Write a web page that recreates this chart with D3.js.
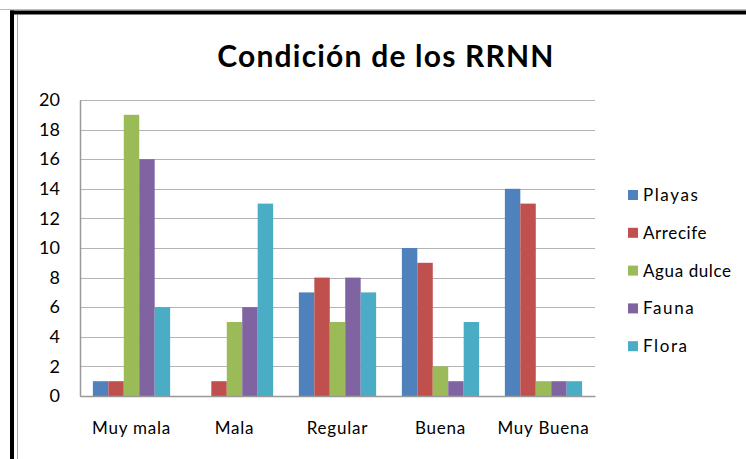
<!DOCTYPE html>
<html>
<head>
<meta charset="utf-8">
<script src="https://cdn.jsdelivr.net/npm/d3@7"></script>
<style>
  body { margin: 0; background: #fff; }
  text { font-family: Lato, "Open Sans", sans-serif; fill: #000; }
</style>
</head>
<body>
<svg id="chart" width="746" height="459"></svg>
<script>
const categories = ['Muy mala', 'Mala', 'Regular', 'Buena', 'Muy Buena']
const seriesNames = ['Playas', 'Arrecife', 'Agua dulce', 'Fauna', 'Flora']
const playas = [1, 0, 7, 10, 14]
const arrecife = [1, 1, 8, 9, 13]
const aguaDulce = [19, 5, 5, 2, 1]
const fauna = [16, 6, 8, 1, 1]
const flora = [6, 13, 7, 5, 1]
const yTicks = [0, 2, 4, 6, 8, 10, 12, 14, 16, 18, 20]
const colors = ['#4f81bd', '#c0504d', '#9bbb59', '#8064a2', '#4bacc6']

const seriesValues = [playas, arrecife, aguaDulce, fauna, flora]

const svg = d3.select('#chart')
const margin = { top: 100, left: 80 }
const width = 515
const height = 296

// frame
svg.append('line').attr('x1', 0).attr('x2', 746).attr('y1', 9.5).attr('y2', 9.5)
  .attr('stroke', '#bbb').attr('stroke-width', 1)
svg.append('line').attr('x1', 10).attr('x2', 746).attr('y1', 12.5).attr('y2', 12.5)
  .attr('stroke', '#000').attr('stroke-width', 4)
svg.append('line').attr('x1', 12).attr('x2', 12).attr('y1', 10.5).attr('y2', 459)
  .attr('stroke', '#000').attr('stroke-width', 4)
svg.append('line').attr('x1', 17.5).attr('x2', 17.5).attr('y1', 15).attr('y2', 459)
  .attr('stroke', '#aaa').attr('stroke-width', 1)

// title
svg.append('text')
  .attr('x', 386).attr('y', 67)
  .attr('text-anchor', 'middle')
  .attr('font-size', '30px')
  .attr('font-weight', 'bold')
  .attr('letter-spacing', '1.2px')
  .text('Condición de los RRNN')

const g = svg.append('g').attr('transform', `translate(${margin.left}, ${margin.top})`)

const x0 = d3.scaleBand().domain(categories).range([0, width]).paddingInner(0.25).paddingOuter(0.125)
const x1 = d3.scaleBand().domain(seriesNames).range([0, x0.bandwidth()])
const y = d3.scaleLinear().domain([0, 20]).range([height, 0])

// grid
g.selectAll('.grid').data(yTicks).enter().append('line')
  .attr('x1', 0).attr('x2', width)
  .attr('y1', d => Math.round(y(d)) + 0.5).attr('y2', d => Math.round(y(d)) + 0.5)
  .attr('stroke', '#b3b3b3').attr('stroke-width', 1.2)

// bars
const groups = g.selectAll('.cat').data(categories).enter().append('g')
  .attr('transform', d => `translate(${x0(d)},0)`)

groups.selectAll('rect')
  .data((c, i) => seriesNames.map((s, j) => ({ s, v: seriesValues[j][i], j })))
  .enter().append('rect')
  .attr('x', d => x1(d.s))
  .attr('width', x1.bandwidth())
  .attr('y', d => y(d.v))
  .attr('height', d => height - y(d.v))
  .attr('fill', d => colors[d.j])

// axes
const yAxis = g.append('g').call(d3.axisLeft(y).tickValues(yTicks).tickSize(0).tickPadding(20))
yAxis.select('.domain').attr('stroke', '#999').attr('stroke-width', 1.5)
yAxis.selectAll('text').attr('font-size', '18px').attr('fill', '#000')

const xAxis = g.append('g').attr('transform', `translate(0, ${height})`)
  .call(d3.axisBottom(x0).tickSize(0).tickPadding(26))
xAxis.select('.domain').attr('stroke', '#999').attr('stroke-width', 1.5)
xAxis.selectAll('text').attr('font-size', '17px').attr('letter-spacing', '0.8px').attr('fill', '#000')

// legend
const legend = svg.append('g').attr('transform', 'translate(628, 195)')
const items = legend.selectAll('g').data(seriesNames).enter().append('g')
  .attr('transform', (d, i) => `translate(0, ${i * 37.8})`)
items.append('rect').attr('x', 0).attr('y', -5).attr('width', 10).attr('height', 10)
  .attr('fill', (d, i) => colors[i])
items.append('text').attr('x', 15).attr('y', 6)
  .attr('font-size', '17px')
  .attr('letter-spacing', (d, i) => (i === 0 || i === 3 || i === 4) ? '1.6px' : '0.6px')
  .text(d => d)
</script>
</body>
</html>
